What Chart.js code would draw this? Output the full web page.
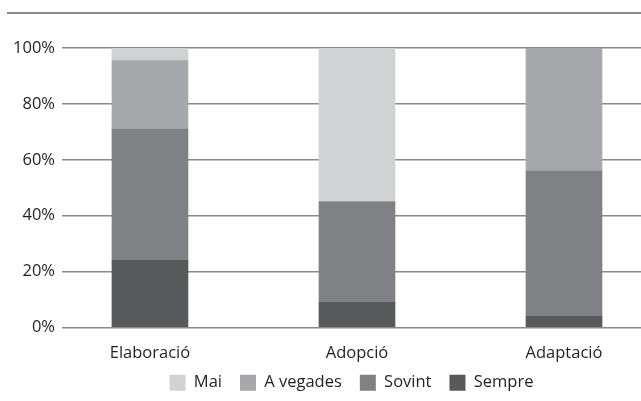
<!DOCTYPE html>
<html>
<head>
<meta charset="utf-8">
<script src="https://cdn.jsdelivr.net/npm/chart.js@4"></script>
<style>
  html, body { margin: 0; padding: 0; background: #fff; overflow: hidden; }
  #wrap { position: relative; width: 641px; height: 401px; }
  #topline { position: absolute; left: 7px; right: 0; top: 12px; border-top: 2px solid #8a8a8c; }
</style>
</head>
<body>
<div id="wrap">
  <div id="topline"></div>
  <canvas id="myChart" width="641" height="401"></canvas>
</div>
<script>
"use strict";
var categories = ["Elaboració", "Adopció", "Adaptació"];
var sempre   = [24, 9, 4];
var sovint   = [47, 36, 52];
var aVegades = [24.5, 0, 44];
var mai      = [4.5, 55, 0];
var yTicks   = [0, 20, 40, 60, 80, 100];

function points(arr) {
    return arr.map(function (v, i) { return { x: i, y: v }; });
}

// let the category labels run past the bottom of the x axis box
var noLabelClip = {
    id: "noLabelClip",
    beforeDraw: function (chart) {
        chart.scales.x._computeLabelArea = function () { return undefined; };
    }
};

var ctx = document.getElementById("myChart");
Chart.defaults.font.family = "'Open Sans', 'Noto Sans', sans-serif";
Chart.defaults.color = "#231f20";

var myChart = new Chart(ctx, {
    type: "bar",
    data: {
        datasets: [
            { label: "Sempre", data: points(sempre), backgroundColor: "#58595b" },
            { label: "Sovint", data: points(sovint), backgroundColor: "#808184" },
            { label: "A vegades", data: points(aVegades), backgroundColor: "#a7a8ab" },
            { label: "Mai", data: points(mai), backgroundColor: "#d1d2d4" }
        ]
    },
    plugins: [noLabelClip],
    options: {
        responsive: false,
        animation: false,
        barThickness: 76,
        borderWidth: 0,
        layout: { padding: { top: 48, right: 0, left: 0, bottom: 0 } },
        scales: {
            x: {
                type: "linear",
                stacked: true,
                offset: false,
                min: -0.425,
                max: 2.372,
                grid: { display: false },
                border: { display: false },
                afterBuildTicks: function (axis) {
                    axis.ticks = categories.map(function (c, i) { return { value: i }; });
                },
                ticks: {
                    font: { size: 16.5 },
                    padding: 8,
                    callback: function (v) { return categories[v]; }
                },
                afterFit: function (axis) { axis.height = 29; }
            },
            y: {
                stacked: true,
                min: 0,
                max: 100,
                afterBuildTicks: function (axis) {
                    axis.ticks = yTicks.map(function (v) { return { value: v }; });
                },
                grid: { color: "#8a8a8c", lineWidth: 1.5, drawTicks: false },
                border: { display: false },
                ticks: {
                    font: { size: 16.5 },
                    padding: 7,
                    callback: function (v) { return v + "%"; }
                },
                afterFit: function (axis) { axis.width = 62; }
            }
        },
        plugins: {
            legend: {
                position: "bottom",
                fullSize: false,
                reverse: true,
                labels: {
                    boxWidth: 16,
                    boxHeight: 16,
                    padding: 18,
                    font: { size: 16.5 }
                }
            },
            tooltip: { enabled: false }
        }
    }
});
</script>
</body>
</html>
